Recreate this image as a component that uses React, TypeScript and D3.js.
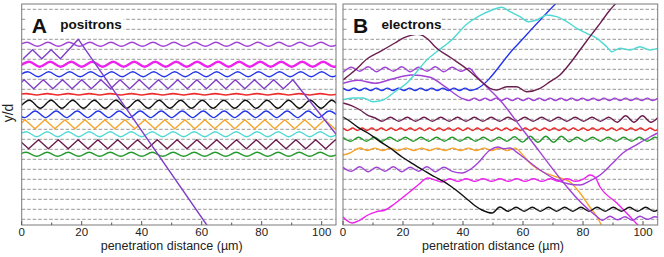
import * as d3 from "d3";

type Pt = [number, number];

// extrema of an oscillation, sampled every dx microns from x0
const wave = (x0: number, dx: number, ys: number[]): Pt[] => ys.map((y, i) => [x0 + i * dx, y]);

const xTicks = [0, 20, 40, 60, 80, 100];
const xMinor = [10, 30, 50, 70, 90];
const planes = [0, 1, 2, 3, 4, 5, 6, 7, 8, 9, 10, 11, 12, 13, 14, 15, 16, 17, 18, 19, 20, 21];

// ---- positrons (panel A), y in units of d (plane 0 = lowest dashed line)
const aVioletTop = wave(-1.75, 3.5, [17.3, 17.7, 17.3, 17.7, 17.3, 17.7, 17.3, 17.7, 17.3, 17.7, 17.3, 17.7, 17.3, 17.7, 17.3, 17.7, 17.3, 17.7, 17.3, 17.7, 17.3, 17.7, 17.3, 17.7, 17.3, 17.7, 17.3, 17.7, 17.3, 17.7, 17.3, 17.7]);
const aPurpleOut: Pt[] = [...wave(0.5, 3.1, [16.05, 16.95, 16.05, 16.95, 16.05]), [18.9, 18.0], [61.7, -0.57], [64, -1.6]];
const aMagenta = wave(-1, 3.5, [15.25, 15.75, 15.25, 15.75, 15.25, 15.75, 15.25, 15.75, 15.25, 15.75, 15.25, 15.75, 15.25, 15.75, 15.25, 15.75, 15.25, 15.75, 15.25, 15.75, 15.25, 15.75, 15.25, 15.75, 15.25, 15.75, 15.25, 15.75, 15.25, 15.75, 15.25, 15.75]);
const aBlueTop = wave(-1.5, 3.5, [14.25, 14.75, 14.25, 14.75, 14.25, 14.75, 14.25, 14.75, 14.25, 14.75, 14.25, 14.75, 14.25, 14.75, 14.25, 14.75, 14.25, 14.75, 14.25, 14.75, 14.25, 14.75, 14.25, 14.75, 14.25, 14.75, 14.25, 14.75, 14.25, 14.75, 14.25, 14.75]);
const aPurpleLate: Pt[] = [...wave(-2.4, 3.2, [13.05, 13.95, 13.05, 13.95, 13.05, 13.95, 13.05, 13.95, 13.05, 13.95, 13.05, 13.95, 13.05, 13.95, 13.05, 13.95, 13.05, 13.95, 13.05, 13.95, 13.05, 13.95, 13.05, 13.95, 13.05, 13.95, 13.05, 13.95, 13.05, 13.95]), [104.8, 8.5], [107, 7.85]];
const aRed = wave(-2, 3.5, [12.43, 12.57, 12.43, 12.57, 12.43, 12.57, 12.43, 12.57, 12.43, 12.57, 12.43, 12.57, 12.43, 12.57, 12.43, 12.57, 12.43, 12.57, 12.43, 12.57, 12.43, 12.57, 12.43, 12.57, 12.43, 12.57, 12.43, 12.57, 12.43, 12.57, 12.43, 12.57]);
const aBlack = wave(-1, 3.6, [11.1, 11.9, 11.1, 11.9, 11.1, 11.9, 11.1, 11.9, 11.1, 11.9, 11.1, 11.9, 11.1, 11.9, 11.1, 11.9, 11.1, 11.9, 11.1, 11.9, 11.1, 11.9, 11.1, 11.9, 11.1, 11.9, 11.1, 11.9, 11.1, 11.9, 11.1, 11.9]);
const aBlueLow = wave(-2.5, 3.5, [10.83, 10.17, 10.83, 10.17, 10.83, 10.17, 10.83, 10.17, 10.83, 10.17, 10.83, 10.17, 10.83, 10.17, 10.83, 10.17, 10.83, 10.17, 10.83, 10.17, 10.83, 10.17, 10.83, 10.17, 10.83, 10.17, 10.83, 10.17, 10.83, 10.17, 10.83, 10.17]);
const aOrange = wave(-2.23, 3.33, [9.05, 9.95, 9.05, 9.95, 9.05, 9.95, 9.05, 9.95, 9.05, 9.95, 9.05, 9.95, 9.05, 9.95, 9.05, 9.95, 9.05, 9.95, 9.05, 9.95, 9.05, 9.95, 9.05, 9.95, 9.05, 9.95, 9.05, 9.95, 9.05, 9.95, 9.05, 9.95, 9.05, 9.95]);
const aCyan = wave(-2, 3.5, [8.25, 8.75, 8.25, 8.75, 8.25, 8.75, 8.25, 8.75, 8.25, 8.75, 8.25, 8.75, 8.25, 8.75, 8.25, 8.75, 8.25, 8.75, 8.25, 8.75, 8.25, 8.75, 8.25, 8.75, 8.25, 8.75, 8.25, 8.75, 8.25, 8.75, 8.25, 8.75]);
const aMaroon = wave(-1, 3.3, [7.95, 7.05, 7.95, 7.05, 7.95, 7.05, 7.95, 7.05, 7.95, 7.05, 7.95, 7.05, 7.95, 7.05, 7.95, 7.05, 7.95, 7.05, 7.95, 7.05, 7.95, 7.05, 7.95, 7.05, 7.95, 7.05, 7.95, 7.05, 7.95, 7.05, 7.95, 7.05, 7.95, 7.05]);
const aGreen = wave(-2, 3.5, [6.3, 6.7, 6.3, 6.7, 6.3, 6.7, 6.3, 6.7, 6.3, 6.7, 6.3, 6.7, 6.3, 6.7, 6.3, 6.7, 6.3, 6.7, 6.3, 6.7, 6.3, 6.7, 6.3, 6.7, 6.3, 6.7, 6.3, 6.7, 6.3, 6.7, 6.3, 6.7]);

// ---- electrons (panel B)
const bCyan: Pt[] = [[0, 11.93], [3.3, 12.13], [6.7, 12.13], [10, 11.76], [13.3, 11.93], [17.3, 12.76], [21.2, 13.6], [24.6, 14.76], [27.9, 15.93], [30.7, 16.63], [36.2, 17.93], [41.7, 19.63], [45, 20.26], [49.7, 20.93], [52.9, 21.2], [55.7, 20.76], [59, 20.26], [61.8, 19.76], [64.6, 19.93], [67.9, 20.43], [71.2, 20.26], [74.6, 19.76], [77.9, 19.1], [81.2, 18.6], [84.6, 18.1], [87.9, 17.26], [89.6, 16.76], [92.3, 17.1], [95.7, 16.93], [99, 17.26], [102.3, 16.93], [104.9, 17.1]];
const bBlue: Pt[] = [...wave(0, 1.85, [13.12, 12.88, 13.12, 12.88, 13.12, 12.88, 13.12, 12.88, 13.12, 12.88, 13.12, 12.88, 13.12, 12.88, 13.12, 12.88, 13.12, 12.88, 13.12, 12.88, 13.12, 12.88, 13.12, 12.88]), [44.5, 13.05], [57, 17.1], [70.7, 21.5], [73, 22.2]];
const bMaroonArc: Pt[] = [[0, 13.93], [4, 14.9], [8.3, 16.1], [12.5, 16.8], [17.3, 17.63], [20.2, 18.15], [22.9, 18.42], [24.6, 18.5], [26.4, 18.4], [28.5, 17.95], [30.7, 17.26], [36.2, 16.1], [41.7, 14.93], [46.2, 13.76], [49, 13.1], [51.2, 12.93], [54.6, 13.26], [57.9, 13.26], [61.2, 12.76], [65.7, 13.1], [69, 13.76], [72.3, 14.43], [75.7, 15.6], [79, 16.93], [82.3, 18.26], [85.7, 19.6], [89, 20.93], [91.3, 21.73], [93, 22.4]];
const bPurpleDrop: Pt[] = [...wave(0, 2.8, [14.7, 15.2, 14.8, 15.25, 14.75, 15.2, 14.8, 15.25, 14.75, 15.2, 14.8, 15.25, 14.75, 15.2, 14.8, 15.1]), [44.5, 14.3], [47.3, 13.43], [52.3, 11.93], [60, 8.93], [84, 0.43], [86.5, -0.1], [89, 0.3], [91.5, -0.05], [94, 0.25], [96.5, -0.1], [99, 0.3], [101.5, 0], [104, 0.25], [106, 0.1]];
const bPurpleArc: Pt[] = [[0, 13.6], [5, 13.9], [10.7, 13.6], [16, 14.0], [22.9, 14.43], [29, 14.2], [34, 13.26], [39.6, 12.1], ...wave(42, 1.8, [11.88, 12.12, 11.88, 12.12, 11.88, 12.12, 11.88, 12.12, 11.88, 12.12, 11.88, 12.12, 11.88, 12.12, 11.88, 12.12, 11.88, 12.12, 11.88, 12.12, 11.88, 12.12, 11.88, 12.12, 11.88, 12.12, 11.88, 12.12, 11.88, 12.12, 11.88, 12.12, 11.88, 12.12, 11.88, 12.12])];
const bMaroonLow: Pt[] = [[0, 11.63], [3, 11.35], [5.7, 10.93], [8, 10.45], [10.7, 10.13], ...wave(13, 2.8, [9.8, 10.2, 9.8, 10.2, 9.8, 10.2, 9.8, 10.2, 9.8, 10.2, 9.8, 10.2, 9.8, 10.2, 9.8, 10.2, 9.8, 10.2, 9.8, 10.2, 9.8, 10.2, 9.8, 10.2, 9.8, 10.2, 9.8, 10.2, 9.7, 10.35, 9.7, 10.35, 9.7, 10.3])];
const bBlack: Pt[] = [[0, 10.23], [1.7, 9.93], [5, 9.2], [8.3, 8.63], [12, 7.85], [15.7, 7.13], [19.7, 6.23], [23, 5.6], [26.7, 4.93], [30.7, 4.23], [33.5, 3.8], [36.3, 3.23], [39, 2.6], [41.7, 1.93], [44, 1.35], [46.3, 0.93], [49.7, 0.63], [52.3, 1.23], ...wave(55, 2.7, [0.8, 1.2, 0.8, 1.2, 0.8, 1.2, 0.8, 1.2, 0.8, 1.2, 0.8, 1.2, 0.8, 1.2, 0.8, 1.2, 0.8, 1.2, 0.8, 1.2])];
const bRed = wave(0, 1.6, [9.13, 8.87, 9.13, 8.87, 9.13, 8.87, 9.13, 8.87, 9.13, 8.87, 9.13, 8.87, 9.13, 8.87, 9.13, 8.87, 9.13, 8.87, 9.13, 8.87, 9.13, 8.87, 9.13, 8.87, 9.13, 8.87, 9.13, 8.87, 9.13, 8.87, 9.13, 8.87, 9.13, 8.87, 9.13, 8.87, 9.13, 8.87, 9.13, 8.87, 9.13, 8.87, 9.13, 8.87, 9.13, 8.87, 9.13, 8.87, 9.13, 8.87, 9.13, 8.87, 9.13, 8.87, 9.13, 8.87, 9.13, 8.87, 9.13, 8.87, 9.13, 8.87, 9.13, 8.87, 9.13, 8.87, 9.13]);
const bGreen = wave(0, 2.6, [8.2, 7.8, 8.2, 7.8, 8.2, 7.8, 8.2, 7.8, 8.2, 7.8, 8.2, 7.8, 8.2, 7.8, 8.2, 7.8, 8.2, 7.8, 8.2, 7.8, 8.2, 7.8, 8.25, 7.72, 8.3, 7.7, 8.3, 7.7, 8.3, 7.75, 8.2, 7.8, 8.2, 7.8, 8.2, 7.8, 8.2, 7.8, 8.2, 7.8, 8.2, 7.8]);
const bOrange: Pt[] = [[0, 6.43], [2.3, 6.63], [5.7, 7.13], ...wave(8, 2.6, [6.88, 7.12, 6.88, 7.12, 6.88, 7.12, 6.88, 7.12, 6.88, 7.12, 6.88, 7.12, 6.88, 7.12, 6.88, 7.12, 6.88, 7.12, 6.88, 7.12]), [60, 6.4], [62.3, 5.63], [66.7, 4.73], [71.3, 4.23], [75.7, 3.73], [79, 2.63], [82.3, 1.23], [84.7, 0.23], [86.5, -0.8]];
const bPurpleLow: Pt[] = [...wave(0, 2.8, [5.2, 4.8, 5.25, 4.75, 5.2, 4.8, 5.25, 4.75, 5.2, 4.8, 5.25, 4.75, 5.2, 4.8]), [39.7, 4.63], [42.5, 5.0], [45, 5.63], [49, 6.93], [51.7, 7.23], [53.5, 7.05], [55.7, 7.13], [57.5, 6.8], [60, 6.23], [65.7, 4.93], [71.3, 3.93], [75, 3.55], [79, 3.43], [82, 3.8], [85.7, 4.43], [89.5, 5.5], [93.3, 6.63], [97.8, 7.45], [102.3, 8.23], [104.9, 8.63]];
const bMagenta: Pt[] = [[0, 0.23], [3, -0.37], [5.5, -0.1], [8.3, 0.43], [11, 0.75], [14, 0.93], [17, 1.5], [19.7, 2.13], [22.5, 2.8], [25, 3.43], [28.3, 4.13], [30.5, 3.95], [33, 3.73], ...wave(35.5, 2.8, [4.05, 3.8, 4.05, 3.8, 4.05, 3.8, 4.05, 3.8, 4.05, 3.8, 4.05, 3.8, 4.05, 3.8, 4.05, 3.8, 4.05]), [82.3, 4.43], [84, 4.2], [85.7, 3.23], [91.3, 1.63], [96.7, -0.07], [99, -0.8]];

const C = {
  violet: "#a142d6",
  purple: "#7f3fc8",
  magenta: "#ee22ee",
  blue: "#2435ee",
  red: "#ee2b2b",
  black: "#111111",
  orange: "#f7a52a",
  cyan: "#4fd9d4",
  maroon: "#6b1d4f",
  green: "#249a2c",
};

type Trace = { pts: Pt[]; color: string; w?: number; zig?: boolean };

const tracesA: Trace[] = [
  { pts: aVioletTop, color: C.violet },
  { pts: aMagenta, color: C.magenta, w: 2.4 },
  { pts: aBlueTop, color: C.blue },
  { pts: aRed, color: C.red, w: 1.6 },
  { pts: aBlack, color: C.black },
  { pts: aBlueLow, color: C.blue },
  { pts: aOrange, color: C.orange, zig: true },
  { pts: aCyan, color: C.cyan },
  { pts: aMaroon, color: C.maroon, zig: true },
  { pts: aGreen, color: C.green },
  { pts: aPurpleLate, color: C.purple, zig: true },
  { pts: aPurpleOut, color: C.purple, zig: true },
];

const tracesB: Trace[] = [
  { pts: bRed, color: C.red },
  { pts: bGreen, color: C.green },
  { pts: bMaroonLow, color: C.maroon },
  { pts: bOrange, color: C.orange },
  { pts: bPurpleLow, color: C.violet },
  { pts: bMagenta, color: C.magenta },
  { pts: bBlack, color: C.black },
  { pts: bPurpleArc, color: C.violet },
  { pts: bPurpleDrop, color: C.violet },
  { pts: bBlue, color: C.blue },
  { pts: bCyan, color: C.cyan },
  { pts: bMaroonArc, color: C.maroon },
];

const top = 4, bottom = 225;
const y = d3.scaleLinear().domain([-0.57, 21.53]).range([bottom, top]);
const font = "Liberation Sans, Arial, Helvetica, sans-serif";

function Panel({ id, x, traces, letter, word, boxW }: { id: string; x: d3.ScaleLinear<number, number>; traces: Trace[]; letter: string; word: string; boxW: number }) {
  const [x0, x1] = x.range();
  const smooth = d3.line<Pt>().x((d) => x(d[0])).y((d) => y(d[1])).curve(d3.curveMonotoneX);
  const zig = d3.line<Pt>().x((d) => x(d[0])).y((d) => y(d[1])).curve(d3.curveLinear);
  return (
    <g>
      <clipPath id={id}>
        <rect x={x0} y={top} width={x1 - x0} height={bottom - top} />
      </clipPath>
      {planes.map((p) => (
        <line key={p} x1={x0} x2={x1} y1={y(p)} y2={y(p)} stroke="#8c8c8c" strokeWidth={0.9} strokeDasharray="3.5 2" />
      ))}
      <g clipPath={`url(#${id})`}>
        {traces.map((t, i) => (
          <path key={i} d={(t.zig ? zig : smooth)(t.pts) || ""} fill="none" stroke={t.color} strokeWidth={t.w ?? 1.4} strokeLinejoin="round" />
        ))}
      </g>
      <rect x={x0 + 4} y={14} width={boxW} height={21} fill="#fff" />
      <text x={x0 + 10} y={33.3} fontFamily={font} fontWeight="bold" fontSize={21} fill="#111">{letter}</text>
      <text x={x0 + 38.5} y={28.6} fontFamily={font} fontWeight="bold" fontSize={13.5} fill="#111">{word}</text>
      <rect x={x0} y={top} width={x1 - x0} height={bottom - top} fill="none" stroke="#7a7a7a" strokeWidth={1} />
      {xTicks.map((t) => (
        <g key={t}>
          <line x1={x(t)} x2={x(t)} y1={bottom} y2={bottom - 4} stroke="#555" />
          <text x={x(t)} y={236} textAnchor="middle" fontFamily={font} fontSize={11.5} fill="#222">{t}</text>
        </g>
      ))}
      {xMinor.map((t) => (
        <line key={t} x1={x(t)} x2={x(t)} y1={bottom} y2={bottom - 2.5} stroke="#555" />
      ))}
      <text x={x(50)} y={250.2} textAnchor="middle" fontFamily={font} fontSize={12.5} fill="#222">penetration distance (µm)</text>
    </g>
  );
}

export default function App() {
  const xA = d3.scaleLinear().domain([0, 104.77]).range([21.7, 336]);
  const xB = d3.scaleLinear().domain([0, 104.9]).range([343, 657.7]);
  return (
    <svg width={664} height={257} style={{ position: "absolute", left: 0, top: 0, background: "#fff" }}>
      <Panel id="clipA" x={xA} traces={tracesA} letter="A" word="positrons" boxW={98} />
      <Panel id="clipB" x={xB} traces={tracesB} letter="B" word="electrons" boxW={94} />
      <text transform="translate(12.5,113) rotate(-90)" textAnchor="middle" fontFamily={font} fontSize={14} fill="#222">y/d</text>
    </svg>
  );
}
